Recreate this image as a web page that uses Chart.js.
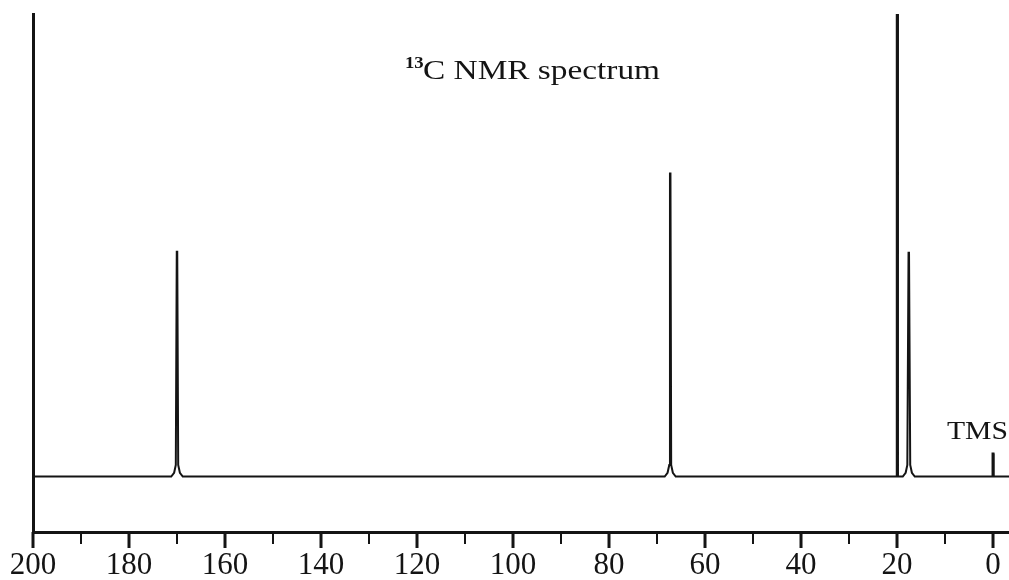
<!DOCTYPE html>
<html>
<head>
<meta charset="utf-8">
<script src="https://cdn.jsdelivr.net/npm/chart.js@4/dist/chart.umd.min.js"></script>
<style>
  html, body { margin: 0; padding: 0; background: #fff; }
  #wrap { width: 1009px; height: 580px; }
</style>
</head>
<body>
<div id="wrap"><canvas id="nmr"></canvas></div>
<script>
'use strict';

// ── Data (ppm / relative intensity) ─────────────────────────────────────────
const SHIFT_PPM = [
  200, 171.2, 170.6, 170.25, 170.05, 169.95, 169.75, 169.4, 168.8,
  68.4, 67.8, 67.45, 67.3, 67.2, 67.05, 66.7, 66.1,
  20.2, 20.05, 19.95, 19.8,
  18.8, 18.2, 17.85, 17.6, 17.5, 17.25, 16.9, 16.3,
  0.15, 0.1, -0.1, -0.15, -3.4
];
const INTENSITY = [
  0, 0, 0.8, 2.5, 48.6, 48.6, 2.5, 0.8, 0,
  0, 0.8, 2.5, 65.5, 65.5, 2.5, 0.8, 0,
  0, 120, 120, 0,
  0, 0.8, 2.5, 48.4, 48.4, 2.5, 0.8, 0,
  0, 5, 5, 0, 0
];
const TICK_VALUES = [0, 10, 20, 30, 40, 50, 60, 70, 80, 90, 100,
                     110, 120, 130, 140, 150, 160, 170, 180, 190, 200];
const TITLE_SUP  = '13';
const TITLE_TEXT = 'C NMR spectrum';
const REF_LABEL  = 'TMS';

const INK   = '#141414';
const SERIF = '"Liberation Serif", "DejaVu Serif", serif';

// ── Extra drawing: axis ticks, title, TMS label ───────────────────────────
const decorPlugin = {
  id: 'decor',
  afterDraw(chart) {
    const ctx = chart.ctx;
    const xs = chart.scales.x;
    const bottom = chart.chartArea.bottom;

    ctx.save();
    ctx.strokeStyle = INK;
    xs.ticks.forEach(t => {
      const major = t.value % 20 === 0;
      const x = xs.getPixelForValue(t.value);
      ctx.lineWidth = major ? 3 : 2;
      ctx.beginPath();
      ctx.moveTo(x, bottom);
      ctx.lineTo(x, bottom + (major ? 16 : 12));
      ctx.stroke();
    });

    // title with superscript 13
    ctx.fillStyle = INK;
    ctx.textBaseline = 'alphabetic';
    ctx.font = 'bold 17px ' + SERIF;
    ctx.save();
    ctx.translate(405, 68);
    ctx.scale(1.1, 1);
    ctx.fillText(TITLE_SUP, 0, 0);
    ctx.restore();

    ctx.font = '27px ' + SERIF;
    const w = ctx.measureText(TITLE_TEXT).width;
    ctx.save();
    ctx.translate(423, 79);
    ctx.scale(237 / w, 1);
    ctx.fillText(TITLE_TEXT, 0, 0);
    ctx.restore();

    // TMS reference label
    ctx.font = '26px ' + SERIF;
    const wt = ctx.measureText(REF_LABEL).width;
    ctx.save();
    ctx.translate(947, 439);
    ctx.scale(61 / wt, 1);
    ctx.fillText(REF_LABEL, 0, 0);
    ctx.restore();

    ctx.restore();
  }
};

// ── Chart ───────────────────────────────────────────────────────────────────
new Chart(document.getElementById('nmr'), {
  type: 'line',
  data: {
    datasets: [{
      data: SHIFT_PPM.map((x, i) => ({ x, y: INTENSITY[i] })),
      borderColor: INK,
      borderWidth: 2,
      pointRadius: 0,
      tension: 0,
      fill: false
    }]
  },
  options: {
    responsive: true,
    maintainAspectRatio: false,
    animation: false,
    layout: { padding: { left: 33, top: 14, right: 0, bottom: 0 } },
    plugins: { legend: { display: false }, tooltip: { enabled: false } },
    scales: {
      x: {
        type: 'linear',
        reverse: true,
        min: -3.33,
        max: 200,
        afterBuildTicks: s => { s.ticks = TICK_VALUES.map(v => ({ value: v })); },
        afterFit: s => { s.height = 48; },
        grid: { display: false, drawTicks: false },
        border: { display: true, width: 3, color: INK },
        ticks: {
          autoSkip: false,
          maxRotation: 0,
          padding: 15,
          color: INK,
          font: { family: SERIF, size: 31 },
          callback: v => (v % 20 === 0 ? String(v) : '')
        }
      },
      y: {
        min: -12,
        max: 100,
        afterFit: s => { s.width = 0; },
        grid: { display: false, drawTicks: false },
        border: { display: true, width: 3, color: INK },
        ticks: { display: false }
      }
    }
  },
  plugins: [decorPlugin]
});
</script>
</body>
</html>
